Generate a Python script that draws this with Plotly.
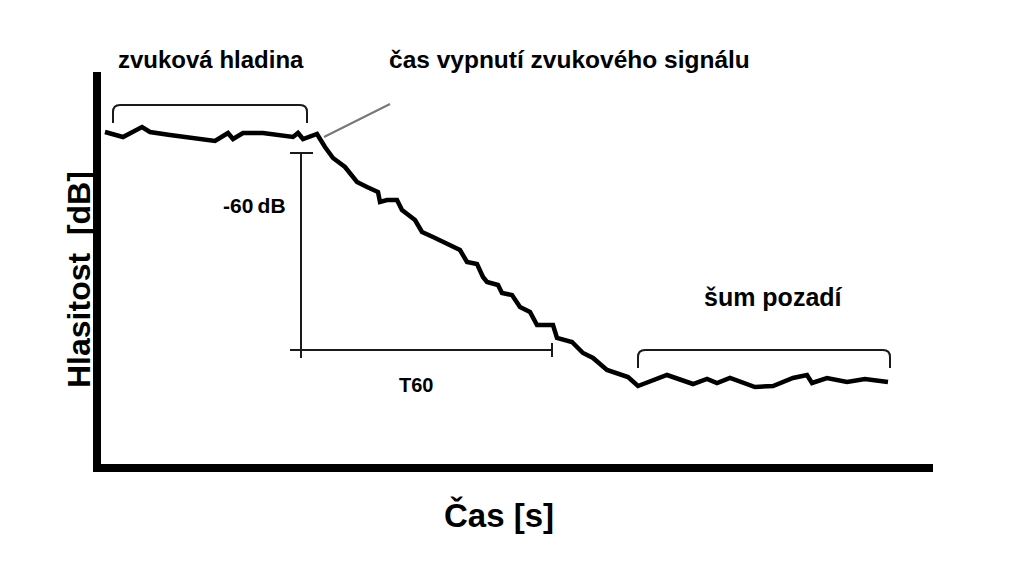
import plotly.graph_objects as go

# ---- data (time in arbitrary units, level in arbitrary dB-like units) ----
time = [105, 123, 142, 150, 170, 190, 215, 228, 233, 243,
        263, 293, 298, 303, 317, 325, 333, 345, 357, 367,
        378, 380, 387, 397, 402, 415, 422, 433, 460, 467,
        477, 483, 487, 498, 502, 512, 520, 530, 537, 553,
        557, 572, 583, 593, 607, 628, 638, 667, 693, 707,
        717, 730, 755, 773, 793, 807, 812, 827, 847, 865,
        888]
level = [445, 440, 450, 445, 442, 439, 436, 444, 438, 444,
         444, 440, 444, 438, 443, 430, 419, 410, 395, 390,
         385, 375, 377, 377, 367, 357, 345, 340, 327, 315,
         313, 300, 295, 292, 284, 282, 270, 265, 252, 252,
         239, 235, 224, 219, 207, 200, 191, 202, 193, 198,
         194, 199, 190, 191, 199, 202, 194, 199, 195, 198,
         195]

# axes frame (origin and extents)
axis_x = [97, 97, 933]
axis_y = [505, 109, 109]

# brackets: (x_start, x_end, y_top, y_bottom)
bracket_level = (113, 307, 472, 454)
bracket_noise = (638, 890, 227, 209)

# cutoff pointer line
pointer_x = [324, 390]
pointer_y = [440, 473]

# -60 dB / T60 measurement
decay_x = 301
decay_top = 424
decay_bottom = 227
t60_level = 227
t60_end = 552

labels = {
    "level": "zvuková hladina",
    "cutoff": "čas vypnutí zvukového signálu",
    "db": "-60\u2009dB",
    "t60": "T60",
    "noise": "šum pozadí",
    "xlab": "Čas [s]",
    "ylab": "Hlasitost  [dB]",
}

FONT = "Liberation Sans, Arial, sans-serif"
LINE = "#1a1a1a"

fig = go.Figure()

# axes
fig.add_trace(go.Scatter(x=axis_x, y=axis_y, mode="lines",
                         line=dict(color="black", width=8), hoverinfo="skip"))
# decay curve
fig.add_trace(go.Scatter(x=time, y=level, mode="lines",
                         line=dict(color="black", width=4.5), hoverinfo="skip"))
# pointer
fig.add_trace(go.Scatter(x=pointer_x, y=pointer_y, mode="lines",
                         line=dict(color="#777777", width=2), hoverinfo="skip"))
# -60 dB vertical with top tick
fig.add_trace(go.Scatter(x=[decay_x - 11, decay_x + 12, None, decay_x, decay_x],
                         y=[decay_top, decay_top, None, decay_top, decay_bottom - 8],
                         mode="lines", line=dict(color=LINE, width=2), hoverinfo="skip"))
# T60 horizontal with end tick
fig.add_trace(go.Scatter(x=[decay_x - 11, t60_end, None, t60_end, t60_end],
                         y=[t60_level, t60_level, None, t60_level + 7, t60_level - 7],
                         mode="lines", line=dict(color=LINE, width=2), hoverinfo="skip"))


def bracket_path(x0, x1, ytop, ybot, r=7):
    return (f"M {x0},{ybot} L {x0},{ytop - r} Q {x0},{ytop} {x0 + r},{ytop} "
            f"L {x1 - r},{ytop} Q {x1},{ytop} {x1},{ytop - r} L {x1},{ybot}")


for b in (bracket_level, bracket_noise):
    fig.add_shape(type="path", path=bracket_path(*b), xref="x", yref="y",
                  line=dict(color=LINE, width=2))


def ann(text, x, y, size, angle=0):
    fig.add_annotation(text=text, x=x, y=y, xref="x", yref="y", showarrow=False,
                       xanchor="center", yanchor="middle", textangle=angle,
                       font=dict(family=FONT, size=size, color="black", weight="bold"))


ann(labels["level"], 211, 518, 24)
ann(labels["cutoff"], 569, 518, 24.5)
ann(labels["db"], 254, 372, 21)
ann(labels["t60"], 416, 192, 20)
ann(labels["noise"], 773, 280, 25)
ann(labels["xlab"], 499, 62, 33)
ann(labels["ylab"], 79, 297, 32, angle=-90)

fig.update_layout(
    width=1024, height=577,
    margin=dict(l=0, r=0, t=0, b=0),
    paper_bgcolor="white", plot_bgcolor="white",
    showlegend=False,
    xaxis=dict(range=[0, 1024], visible=False, fixedrange=True),
    yaxis=dict(range=[0, 577], visible=False, fixedrange=True),
)

fig.write_html("out.html", config={"displayModeBar": False},
               post_script="document.body.style.margin='0';document.body.style.overflow='hidden';")
